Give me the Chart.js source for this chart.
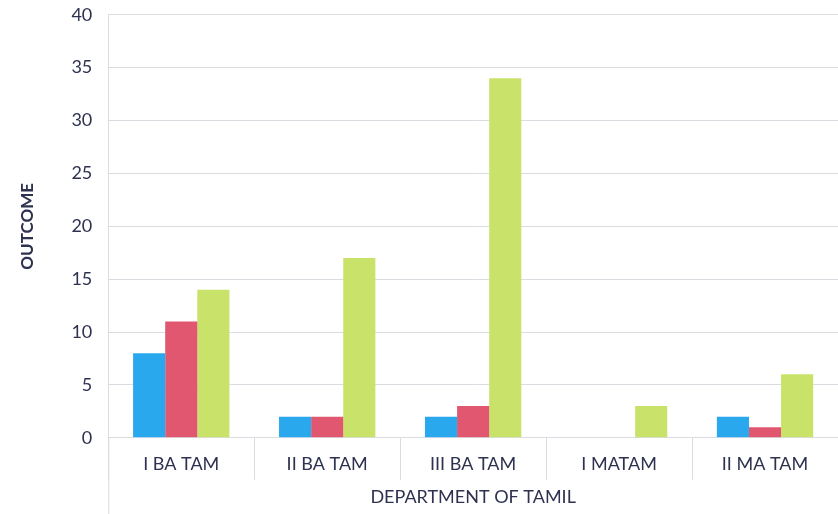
<!DOCTYPE html>
<html>
<head>
<meta charset="utf-8">
<script src="https://cdn.jsdelivr.net/npm/chart.js@4/dist/chart.umd.min.js"></script>
<style>
  body { margin: 0; background: #ffffff; }
  #wrap { width: 838px; height: 514px; }
</style>
</head>
<body>
<div id="wrap"><canvas id="outcomeChart" width="838" height="514"></canvas></div>
<script>
// valores
const categories = ['I BA TAM', 'II BA TAM', 'III BA TAM', 'I MATAM', 'II MA TAM'];
const seriesBlue = [8, 2, 2, 0, 2];
const seriesRed = [11, 2, 3, 0, 1];
const seriesGreen = [14, 17, 34, 3, 6];
const yTicks = [0, 5, 10, 15, 20, 25, 30, 35, 40];

const textColor = '#2e3250';
const gridColor = '#d9dce0';
const fontFamily = 'Lato, "Open Sans", sans-serif';

// linha do eixo Y que desce até a base do gráfico
const axisExtension = {
    id: 'axisExtension',
    afterDraw(chart) {
        const ctx = chart.ctx;
        const x = chart.scales.x.left;
        ctx.save();
        ctx.strokeStyle = gridColor;
        ctx.lineWidth = 1;
        ctx.beginPath();
        ctx.moveTo(x + 0.5, chart.chartArea.bottom);
        ctx.lineTo(x + 0.5, chart.height);
        ctx.stroke();
        ctx.restore();
    }
};

function createOutcomeChart() {
    const ctx = document.querySelector('#outcomeChart').getContext('2d');

    const outcomeChart = new Chart(ctx, {
        type: 'bar',
        data: {
            labels: categories,
            datasets: [
                { label: 'Série 1', data: seriesBlue, backgroundColor: '#2aa8ee' },
                { label: 'Série 2', data: seriesRed, backgroundColor: '#e0576f' },
                { label: 'Série 3', data: seriesGreen, backgroundColor: '#c9e26a' },
            ],
        },
        options: {
            responsive: false,
            animation: false,
            layout: { padding: { top: 0, right: -6, left: 17, bottom: 0 } },
            datasets: {
                bar: { categoryPercentage: 0.66, barPercentage: 1.0 }
            },
            plugins: {
                legend: { display: false },
                tooltip: { enabled: false },
            },
            scales: {
                x: {
                    offset: true,
                    grid: {
                        offset: true,
                        drawOnChartArea: false,
                        drawTicks: true,
                        tickLength: 42,
                        color: gridColor,
                    },
                    border: { color: gridColor },
                    ticks: {
                        color: textColor,
                        font: { family: fontFamily, size: 18 },
                        padding: -26,
                        maxRotation: 0,
                    },
                    title: {
                        display: true,
                        text: 'DEPARTMENT OF TAMIL',
                        color: textColor,
                        font: { family: fontFamily, size: 18 },
                        padding: { top: 37, bottom: 6 },
                    },
                },
                y: {
                    min: 0,
                    max: 40,
                    afterBuildTicks: axis => {
                        axis.ticks = yTicks.map(v => ({ value: v }));
                    },
                    grid: {
                        color: gridColor,
                        drawTicks: true,
                        tickLength: 12,
                        tickColor: 'rgba(0,0,0,0)',
                    },
                    border: { color: gridColor },
                    ticks: {
                        color: textColor,
                        font: { family: fontFamily, size: 18 },
                        padding: 4,
                    },
                    title: {
                        display: true,
                        text: 'OUTCOME',
                        color: textColor,
                        font: { family: fontFamily, size: 17, weight: 'bold' },
                        padding: { top: 0, bottom: 30 },
                    },
                },
            },
        },
        plugins: [axisExtension],
    });
}

createOutcomeChart();
</script>
</body>
</html>
